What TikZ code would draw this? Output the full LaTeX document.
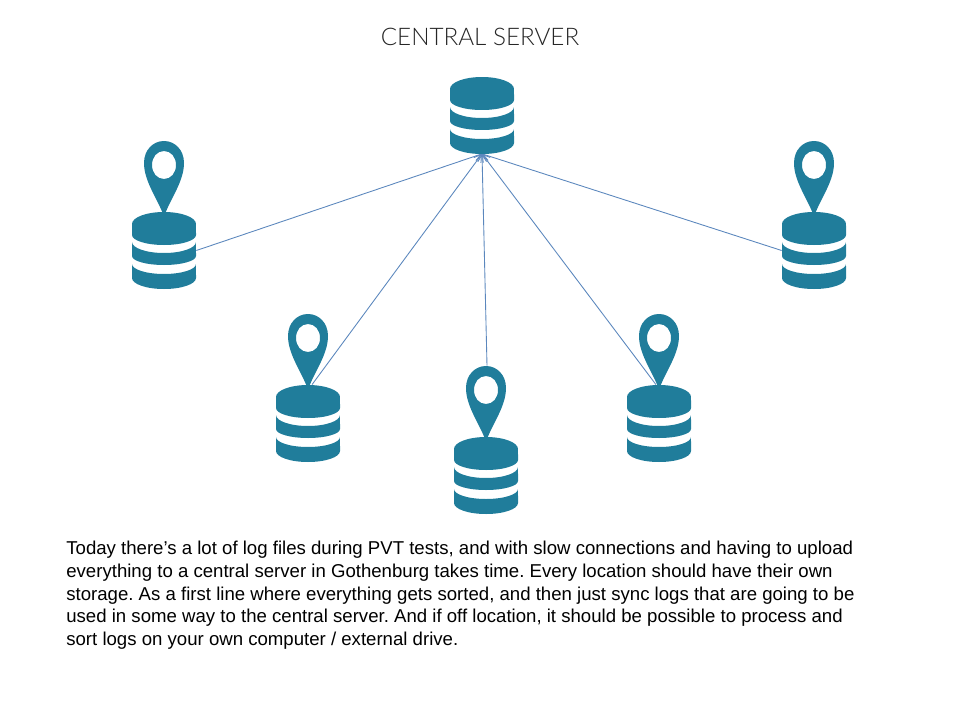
\documentclass[tikz,border=0pt]{standalone}
\usepackage{fontspec}
\setmainfont{Liberation Sans}
\newfontfamily\TitleFont{Lato Light}
\usetikzlibrary{arrows.meta,calc}
\definecolor{DbClr}{RGB}{32,125,155}
\definecolor{LinkClr}{RGB}{91,135,189}
\newcommand{\DbBand}[4]{
  \fill[DbClr] (-32,#1) arc[start angle=180,end angle=360,x radius=.64cm,y radius=#2]
    -- (32,#3) arc[start angle=0,end angle=-180,x radius=.64cm,y radius=#4] -- cycle;
}
\tikzset{
  dbnode/.style={minimum width=1.28cm,minimum height=1.54cm,inner sep=0pt},
  pinnode/.style={minimum width=.8cm,minimum height=1.42cm,inner sep=0pt},
  link/.style={draw=LinkClr,line width=0.5pt,-{Straight Barb[length=4pt,width=5pt]}},
  dbstack/.pic={
    \fill[DbClr] (-32,12) arc[start angle=180,end angle=0,x radius=.64cm,y radius=.24cm]
      -- (32,23) arc[start angle=0,end angle=-180,x radius=.64cm,y radius=.2cm] -- cycle;
    \DbBand{30}{.22cm}{44}{.18cm}
    \DbBand{52}{.2cm}{66}{.22cm}
  },
  pinmark/.pic={
    \fill[DbClr,even odd rule] (-1,2) .. controls (-7,-14) and (-20,-31) .. (-20,-49)
      .. controls (-20,-62) and (-11,-71) .. (0,-71)
      .. controls (11,-71) and (20,-62) .. (20,-49)
      .. controls (20,-31) and (7,-14) .. (1,2) -- cycle
      (12,-47) .. controls (12,-39) and (7,-33) .. (0,-33)
      .. controls (-7,-33) and (-12,-39) .. (-12,-47)
      .. controls (-12,-55) and (-7,-61) .. (0,-61)
      .. controls (7,-61) and (12,-55) .. (12,-47) -- cycle;
  }
}

\begin{document}
\begin{tikzpicture}[x=0.02cm,y=-0.02cm]
\useasboundingbox (0,0) rectangle (960,720);

\node[dbnode] (server) at (482,115) {};
\node[dbnode] (dbA) at (164,250.5) {};
\node[dbnode] (dbB) at (308,423.5) {};
\node[dbnode] (dbC) at (486,475.5) {};
\node[dbnode] (dbD) at (659,423.5) {};
\node[dbnode] (dbE) at (814,250.5) {};
\node[pinnode] (pinC) at (487,401.5) {};

\draw[link] (dbA.east) -- (server.south);
\draw[link] ([xshift=.08cm]dbB.north) -- (server.south);
\draw[link] (pinC.north) -- (server.south);
\draw[link] ([xshift=-.06cm]dbD.north) -- (server.south);
\draw[link] (dbE.west) -- (server.south);

\pic at (482,77) {dbstack};
\foreach \px/\py in {164/212,308/385,486/437,659/385,814/212}{
  \pic at (\px,\py) {dbstack};
  \pic at (\px,\py) {pinmark};
}

\node[font=\TitleFont\fontsize{13.8pt}{16pt}\selectfont,text=black!85] (title) at (480,37) {CENTRAL SERVER};
\node[anchor=north west,align=left,inner sep=0pt,font=\fontsize{10.59pt}{12.9pt}\selectfont\frenchspacing] (body) at (66,541) {Today there’s a lot of log files during PVT tests, and with slow connections and having to upload\\
everything to a central server in Gothenburg takes time. Every location should have their own\\
storage. As a first line where everything gets sorted, and then just sync logs that are going to be\\
used in some way to the central server. And if off location, it should be possible to process and\\
sort logs on your own computer / external drive.};
\end{tikzpicture}
\end{document}
